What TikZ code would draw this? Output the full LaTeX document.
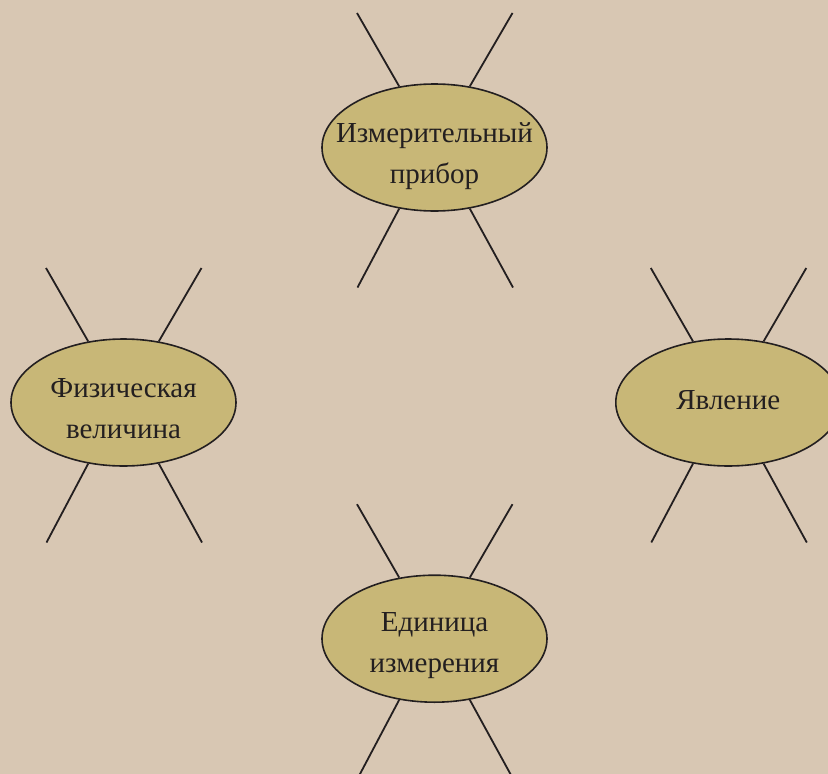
\documentclass[tikz,border=0pt]{standalone}
\usepackage{fontspec}
\setmainfont{Liberation Serif}
\usetikzlibrary{shapes.geometric,calc}
\definecolor{bgc}{HTML}{D8C7B3}
\definecolor{fillc}{HTML}{C8B777}
\definecolor{inkc}{HTML}{231F20}
\newcommand{\toprule}{\rule{0pt}{22pt}}
\newcommand{\botrule}{\rule[-8pt]{0pt}{8pt}}
\begin{document}
\begin{tikzpicture}[x=1pt,y=1pt,
  blob/.style={ellipse, draw=inkc, fill=fillc, line width=1.6pt,
    minimum width=225pt, minimum height=127pt, inner sep=0pt},
  lbl/.style={align=center, text=inkc, inner sep=0pt,
    font=\fontsize{29}{41}\selectfont},
  ray/.style={draw=inkc, line width=1.8pt}]
\fill[bgc] (0,0) rectangle (828,-774);
\useasboundingbox (0,0) rectangle (828,-774);

\node[blob] (pribor) at (434.5,-147.5) {};
\node[blob] (velich) at (123.5,-402.5) {};
\node[blob] (yavl) at (728.3,-402.5) {};
\node[blob] (edin) at (434.5,-638.7) {};

\node[lbl] (priborT) at (434.5,-155.6) {\toprule Измерительный\\прибор\botrule};
\node[lbl] (velichT) at (123.5,-410.7) {\toprule Физическая\\величина\botrule};
\node[lbl] (yavlT) at (728.3,-402) {\toprule Явление\botrule};
\node[lbl] (edinT) at (434.5,-645.2) {\toprule Единица\\измерения\botrule};

\foreach \n in {pribor,velich,yavl,edin}{
  \draw[ray] (\n.60) -- ($(\n.center)+(78,134.5)$);
  \draw[ray] (\n.120) -- ($(\n.center)+(-77.5,134.5)$);
  \draw[ray] (\n.240) -- ($(\n.center)+(-77,-140)$);
  \draw[ray] (\n.300) -- ($(\n.center)+(78.5,-140)$);
}
\end{tikzpicture}
\end{document}
